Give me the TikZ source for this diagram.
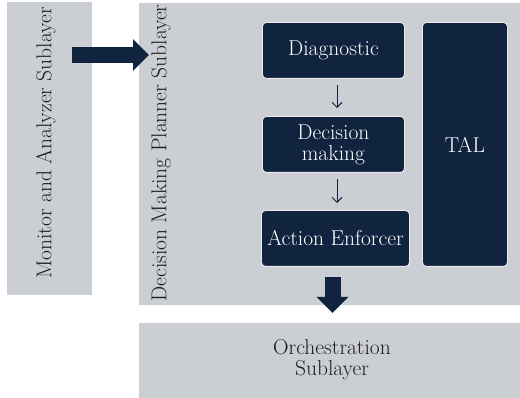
\documentclass[tikz,border=0pt]{standalone}
\usepackage{fontspec}
\setmainfont{Latin Modern Roman}
\usetikzlibrary{arrows.meta}
\definecolor{layergray}{HTML}{CBCED3}
\definecolor{navy}{HTML}{10233F}
\definecolor{txtdark}{HTML}{1E1E1E}
\tikzset{
  layer/.style={fill=layergray, draw=none, inner sep=0pt},
  layertext/.style={text=txtdark, font=\fontsize{21.5}{21}\selectfont, align=center, inner sep=0pt},
  block/.style={fill=navy, draw=white!85!gray, line width=0.9pt, rounded corners=4pt,
    text=white, font=\fontsize{21.5}{21}\selectfont, align=center, inner sep=0pt},
  thin arrow/.style={draw=navy, line width=0.9pt, -{Straight Barb[length=5pt,width=10pt]}},
  big arrow/.style={draw=navy, line width=16pt, -{Triangle[width=31pt,length=16pt]}, fill=navy},
}
\begin{document}
\begin{tikzpicture}[x=1pt,y=-1pt]
\useasboundingbox (0,0) rectangle (520,398);
% layers
\node[layer, minimum width=85pt, minimum height=293pt, anchor=north west] (mon) at (7,2) {};
\node[layer, minimum width=381pt, minimum height=302pt, anchor=north west] (dec) at (139,3) {};
\node[layer, minimum width=381pt, minimum height=75pt, anchor=north west] (orch) at (139,323) {};
\node[layertext, rotate=90] (monl) at (46,143) {Monitor and Analyzer Sublayer};
\node[layertext, rotate=90] (decl) at (161,153) {Decision Making Planner Sublayer};
\node[layertext] (orchl) at (332,360) {Orchestration\\Sublayer};
% blocks
\node[block, minimum width=142pt, minimum height=56pt, anchor=north west] (diag) at (262,22) {Diagnostic};
\node[block, minimum width=142pt, minimum height=56pt, anchor=north west] (dm) at (262,116) {Decision\\making};
\node[block, minimum width=148pt, minimum height=56pt, anchor=north west] (act) at (261,210) {Action Enforcer};
\node[block, minimum width=85pt, minimum height=244pt, anchor=north west] (tal) at (422,22) {TAL};
% connectors
\coordinate (cx) at (337,0);
\draw[thin arrow] ([yshift=-6pt]diag.south -| cx) -- ([yshift=8pt]dm.north -| cx);
\draw[thin arrow] ([yshift=-6pt]dm.south -| cx) -- ([yshift=7pt]act.north -| cx);
\coordinate (dx) at (332.5,0);
\draw[big arrow] ([xshift=-20pt]mon.east |- 0,55) -- ([xshift=10pt]dec.west |- 0,55);
\draw[big arrow] ([yshift=-10pt]act.south -| dx) -- ([yshift=10pt]orch.north -| dx);
\end{tikzpicture}
\end{document}
